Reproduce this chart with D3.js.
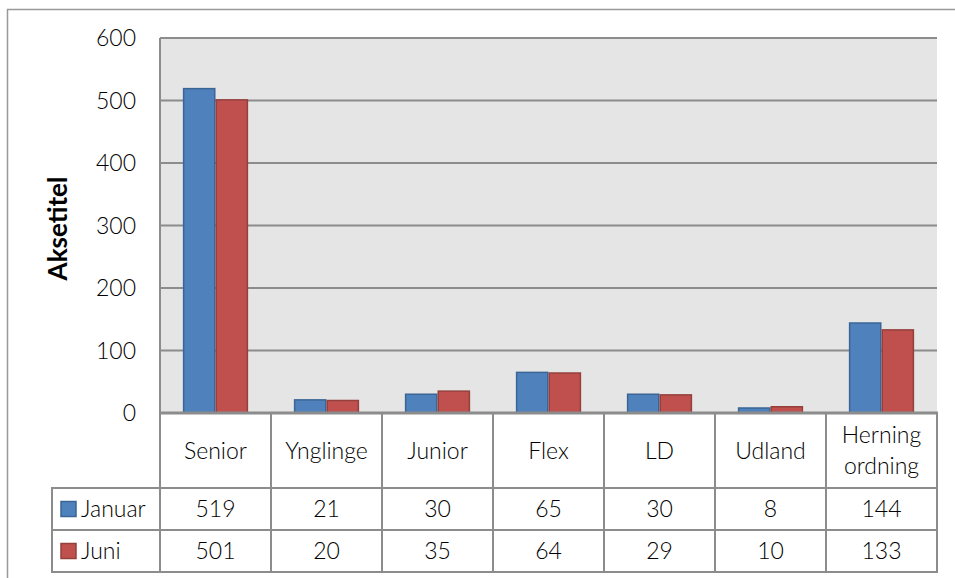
<!DOCTYPE html>
<html>
<head>
<meta charset="utf-8">
<script src="https://cdn.jsdelivr.net/npm/d3@7"></script>
<style>
  html, body { margin: 0; padding: 0; background: #fff; }
  svg { display: block; font-family: Lato, "Open Sans", sans-serif; }
</style>
</head>
<body>
<svg id="chart"></svg>
<script>
/* ---------- Daten ---------- */
const categories = ["Senior", "Ynglinge", "Junior", "Flex", "LD", "Udland", "Herning\nordning"];
const seriesNames = ["Januar", "Juni"];
const januar = [519, 21, 30, 65, 30, 8, 144];
const juni   = [501, 20, 35, 64, 29, 10, 133];
const yTicks = [0, 100, 200, 300, 400, 500, 600];
const axisTitle = "Aksetitel";

/* ---------- Setup ---------- */
const width = 955, height = 578;
const plot = { left: 160, right: 937, top: 38, bottom: 413 };
const tableLeft = 52, rowH = [75, 42, 42];

const fill   = { Januar: "#4f81bd", Juni: "#c0504d" };
const stroke = { Januar: "#3a6594", Juni: "#94403d" };
const lineCol = "#8c8c8c", gridCol = "#8c8c8c";
const fs = 23, fw = 300;

const svg = d3.select("#chart").attr("width", width).attr("height", height);

// outer frame (runs off the right and bottom edge)
svg.append("rect")
  .attr("x", 7.5).attr("y", 9.5).attr("width", width + 10).attr("height", height + 10)
  .attr("fill", "none").attr("stroke", "#999").attr("stroke-width", 1.5);

const x = d3.scaleBand().domain(categories).range([plot.left, plot.right]);
const xs = d3.scaleBand().domain(seriesNames).range([0, x.bandwidth()])
  .paddingInner(0).paddingOuter(0.7);
const y = d3.scaleLinear().domain([0, 600]).range([plot.bottom, plot.top]);

// plot background
svg.append("rect")
  .attr("x", plot.left).attr("y", plot.top)
  .attr("width", plot.right - plot.left).attr("height", plot.bottom - plot.top)
  .attr("fill", "#e5e5e5");

// gridlines
svg.append("g").selectAll("line").data(yTicks.filter(t => t > 0)).join("line")
  .attr("x1", plot.left).attr("x2", plot.right)
  .attr("y1", d => y(d)).attr("y2", d => y(d))
  .attr("stroke", gridCol).attr("stroke-width", 2);

// y tick labels
svg.append("g").selectAll("text").data(yTicks).join("text")
  .attr("x", 136).attr("y", d => y(d))
  .attr("dy", "0.35em").attr("text-anchor", "end")
  .attr("font-size", fs).attr("font-weight", fw).attr("fill", "#000")
  .text(d => d);

// axis title
svg.append("text")
  .attr("transform", `translate(67, ${(plot.top + plot.bottom) / 2 + 3}) rotate(-90)`)
  .attr("text-anchor", "middle").attr("font-size", 26).attr("font-weight", "bold")
  .attr("fill", "#000")
  .text(axisTitle);

// bars
const series = [januar, juni];
const barData = categories.flatMap((c, i) =>
  seriesNames.map((s, j) => ({ cat: c, name: s, value: series[j][i] })));

svg.append("g").selectAll("rect").data(barData).join("rect")
  .attr("x", d => x(d.cat) + xs(d.name) + 0.75)
  .attr("y", d => y(d.value))
  .attr("width", xs.bandwidth() - 1.5)
  .attr("height", d => y(0) - y(d.value))
  .attr("fill", d => fill[d.name])
  .attr("stroke", d => stroke[d.name]).attr("stroke-width", 1.5);

/* ---------- Datentabelle ---------- */
const rowY = [plot.bottom, plot.bottom + rowH[0], plot.bottom + rowH[0] + rowH[1],
  plot.bottom + rowH[0] + rowH[1] + rowH[2]];
const tbl = svg.append("g");

// vertical lines
tbl.selectAll("line.v").data(categories.map(c => x(c)).concat([plot.right])).join("line")
  .attr("class", "v")
  .attr("x1", d => d).attr("x2", d => d)
  .attr("y1", (d, i) => i === 0 ? plot.top : plot.bottom).attr("y2", rowY[3])
  .attr("stroke", lineCol).attr("stroke-width", 2);
tbl.append("line")
  .attr("x1", tableLeft).attr("x2", tableLeft).attr("y1", rowY[1]).attr("y2", rowY[3])
  .attr("stroke", lineCol).attr("stroke-width", 2);

// horizontal lines
tbl.selectAll("line.h").data([0, 1, 2, 3]).join("line")
  .attr("class", "h")
  .attr("x1", d => d === 0 ? plot.left - 1 : tableLeft - 1).attr("x2", plot.right + 1)
  .attr("y1", d => rowY[d]).attr("y2", d => rowY[d])
  .attr("stroke", lineCol).attr("stroke-width", d => d === 0 ? 3 : 2);

// category labels
tbl.selectAll("text.cat").data(categories).join("text")
  .attr("class", "cat")
  .attr("x", d => x(d) + x.bandwidth() / 2)
  .attr("y", (rowY[0] + rowY[1]) / 2)
  .attr("text-anchor", "middle").attr("font-size", fs).attr("font-weight", fw).attr("fill", "#000")
  .each(function(d) {
    const lines = d.split("\n");
    const t = d3.select(this);
    lines.forEach((l, k) => {
      t.append("tspan")
        .attr("x", x(d) + x.bandwidth() / 2)
        .attr("dy", k === 0 ? `${0.35 - (lines.length - 1) * 0.68}em` : "1.36em")
        .text(l);
    });
  });

// value rows
seriesNames.forEach((s, j) => {
  const cy = (rowY[j + 1] + rowY[j + 2]) / 2;
  tbl.append("rect")
    .attr("x", 61).attr("y", cy - 7.5).attr("width", 15).attr("height", 15)
    .attr("fill", fill[s]).attr("stroke", stroke[s]).attr("stroke-width", 1.5);
  tbl.append("text")
    .attr("x", 81).attr("y", cy).attr("dy", "0.35em")
    .attr("font-size", fs).attr("font-weight", fw).attr("fill", "#000").text(s);
  tbl.selectAll(`text.v${j}`).data(series[j]).join("text")
    .attr("class", `v${j}`)
    .attr("x", (d, i) => x(categories[i]) + x.bandwidth() / 2)
    .attr("y", cy).attr("dy", "0.35em")
    .attr("text-anchor", "middle").attr("font-size", fs).attr("font-weight", fw).attr("fill", "#000")
    .text(d => d);
});
</script>
</body>
</html>
